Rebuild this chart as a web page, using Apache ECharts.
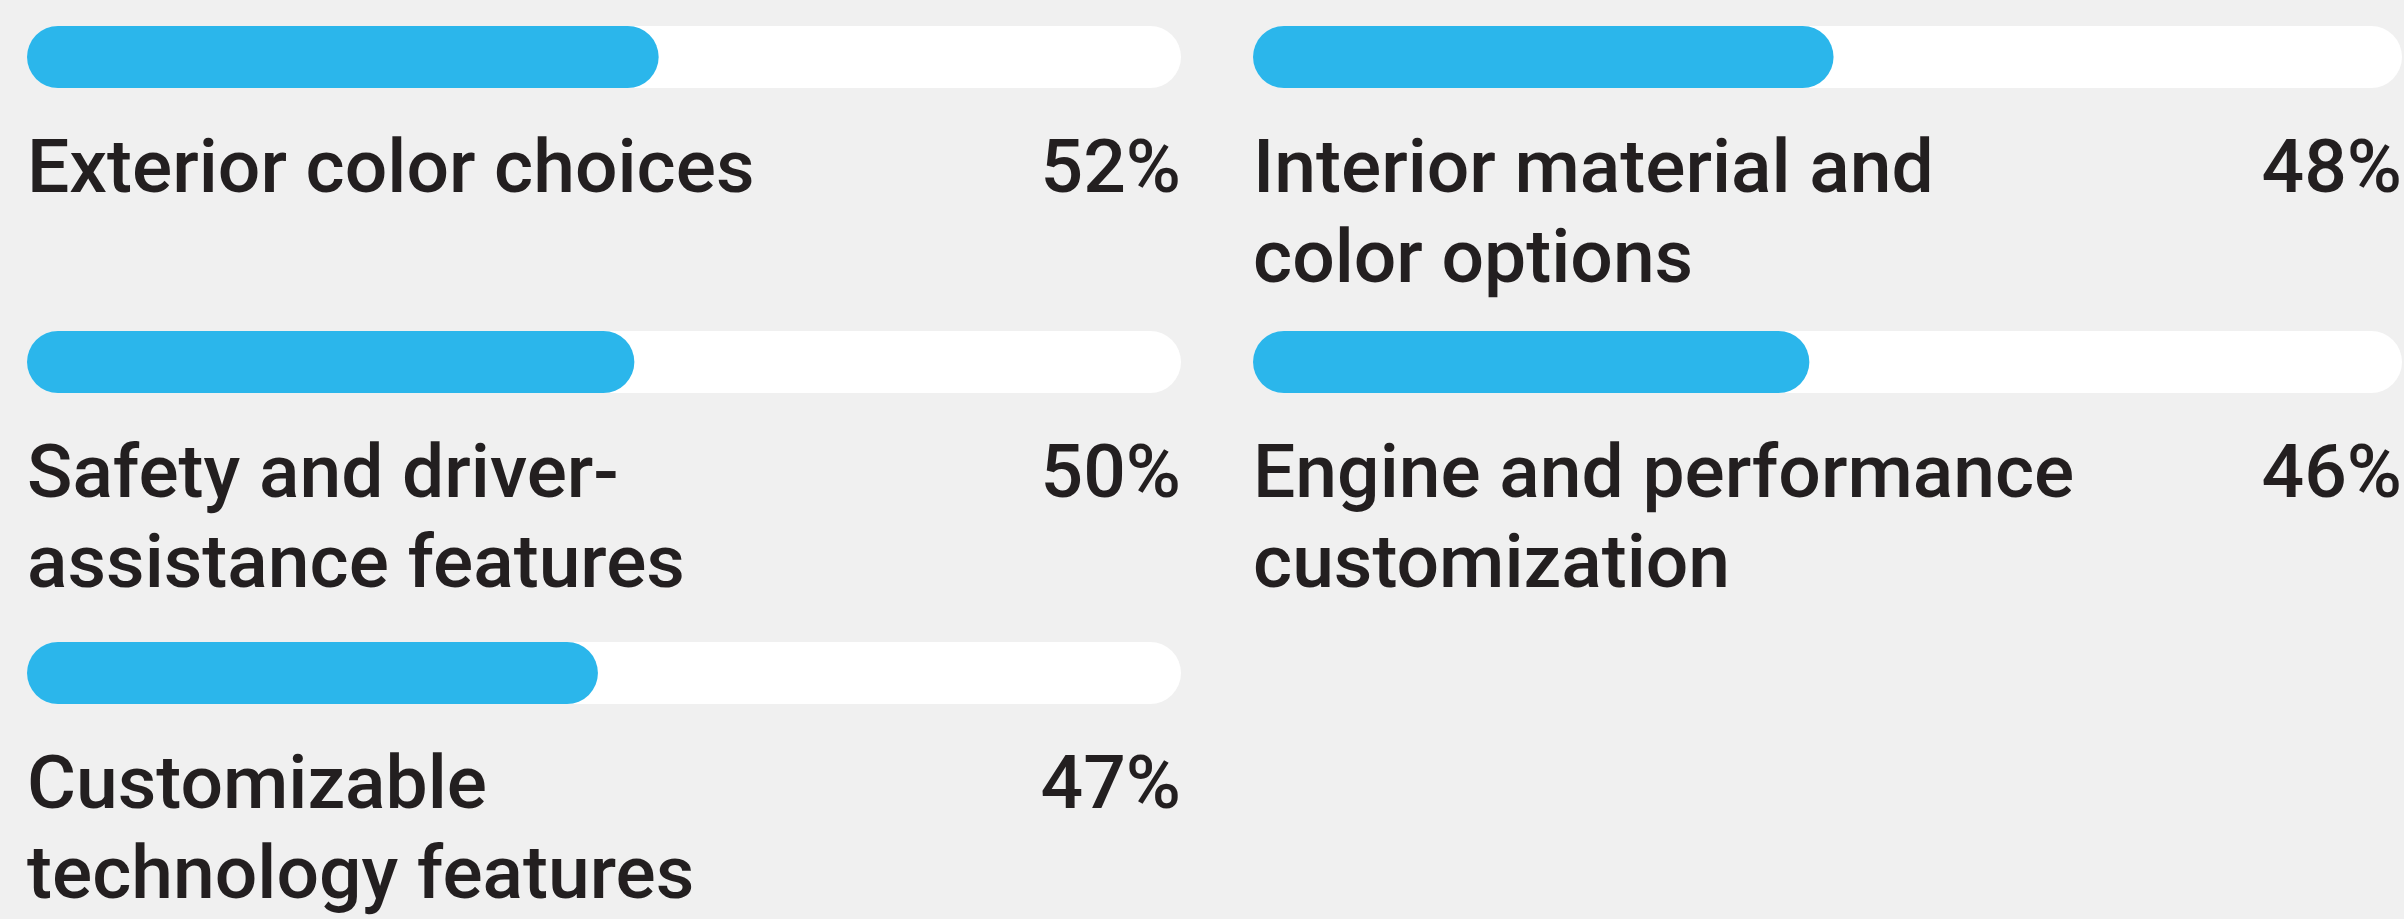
<!DOCTYPE html>
<html>
<head>
<meta charset="utf-8">
<script src="https://cdn.jsdelivr.net/npm/echarts@6/dist/echarts.min.js"></script>
<style>
html,body{margin:0;padding:0;background:#f0f0f0;}
#c{width:2404px;height:919px;}
</style>
</head>
<body>
<div id="c"></div>
<script>
// Data
const categories = [
  'Exterior color choices',
  'Interior material and\ncolor options',
  'Safety and driver-\nassistance features',
  'Engine and performance\ncustomization',
  'Customizable\ntechnology features'
];
const values = [52, 48, 50, 46, 47];
const scaleMax = 95;

// Layout (presentation only)
const colLeft = [27, 1253];
const colWidth = [1154, 1149];
const rowTop = [26, 331, 642];
const barH = 62;
const FONT = 'Roboto';
const FS = 75;
const LH = 90;
const TXT = '#231f20';
const BLUE = '#2bb6eb';
const labelGap = 40;

const grids = [], xAxes = [], yAxes = [], series = [];
categories.forEach((cat, i) => {
  const col = i % 2, row = Math.floor(i / 2);
  grids.push({left: colLeft[col], width: colWidth[col], top: rowTop[row], height: barH, containLabel: false});
  xAxes.push({type: 'value', gridIndex: i, min: 0, max: scaleMax, show: false});
  yAxes.push({type: 'category', gridIndex: i, data: [cat], show: false});
  series.push({
    type: 'bar', xAxisIndex: i, yAxisIndex: i, barWidth: barH, silent: true,
    data: [scaleMax],
    itemStyle: {color: '#ffffff', borderRadius: barH / 2},
    label: {
      show: true, position: ['100%', barH + labelGap], align: 'right', verticalAlign: 'top',
      formatter: () => values[i] + '%',
      fontFamily: FONT, fontSize: FS, fontWeight: 500, color: TXT, lineHeight: LH
    },
    animation: false
  });
  series.push({
    type: 'bar', xAxisIndex: i, yAxisIndex: i, barWidth: barH, barGap: '-100%', silent: true,
    data: [values[i]],
    itemStyle: {color: BLUE, borderRadius: barH / 2},
    label: {
      show: true, position: [0, barH + labelGap], align: 'left', verticalAlign: 'top',
      formatter: () => cat,
      fontFamily: FONT, fontSize: FS, fontWeight: 500, color: TXT, lineHeight: LH
    },
    animation: false
  });
});

const chart = echarts.init(document.getElementById('c'), null, {renderer: 'canvas'});
chart.setOption({
  backgroundColor: '#f0f0f0',
  animation: false,
  grid: grids, xAxis: xAxes, yAxis: yAxes, series: series
});
</script>
</body>
</html>
